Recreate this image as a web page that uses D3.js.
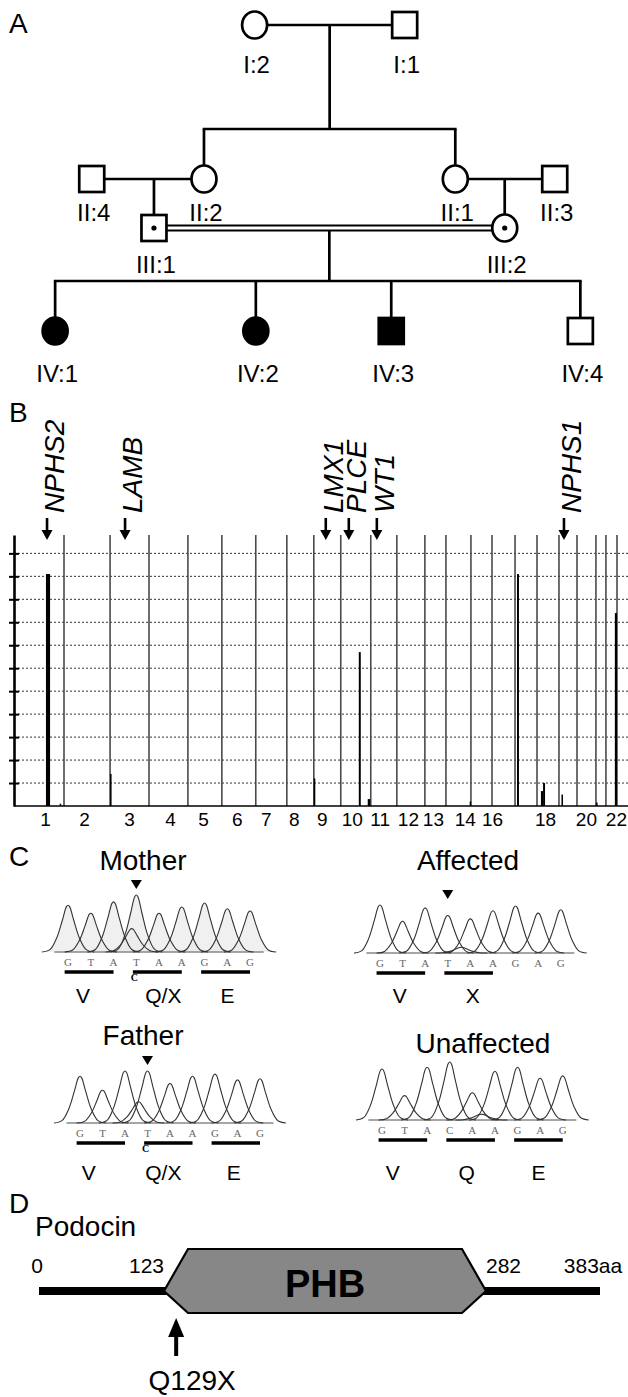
<!DOCTYPE html>
<html>
<head>
<meta charset="utf-8">
<script src="https://cdn.jsdelivr.net/npm/d3@7"></script>
<style>
body { margin:0; background:#fff; }
svg { display:block; font-family:"Liberation Sans", Arial, sans-serif; }
</style>
</head>
<body>
<svg id="fig" width="628" height="1397"></svg>
<script>
// ---------- data: panel A (pedigree) ----------
var people = ["I:2","I:1","II:4","II:2","II:1","II:3","III:1","III:2","IV:1","IV:2","IV:3","IV:4"];
var sex    = ["F","M","M","F","F","M","M","F","F","F","M","M"];
var pheno  = ["n","n","n","n","n","n","c","c","a","a","a","n"];   // n normal, c carrier, a affected
var gen    = ["I","I","II","II","II","II","III","III","IV","IV","IV","IV"];
var slot   = [40.1, 64.7, 13.4, 31.8, 73.0, 89.3, 23.6, 81.1, 7.4, 40.3, 62.5, 93.5];
var couples   = [["I:1","I:2"], ["II:4","II:2"], ["II:3","II:1"], ["III:1","III:2"]];
var consang   = [false, false, false, true];
var offspring = [["II:2","II:1"], ["III:1"], ["III:2"], ["IV:1","IV:2","IV:3","IV:4"]];

// ---------- data: panel B (homozygosity mapping) ----------
var chromLen   = [280,258,218,218,190,190,174,151,151,168,146,157,118,140,118,129,123,123,101,106,56,62];
var chromShown = [1,2,3,4,5,6,7,8,9,10,11,12,13,14,16,18,20,22];
var chromLabelPos = [174,112,106,118,84,84,56,39,45,62,50,62,45,106,0,45,50,56]; // cM within chromosome
var yTicks     = [1,2,3,4,5,6,7,8,9,10,11];
var peakChr    = [1, 1, 3, 9, 10, 10, 14, 17, 18, 18, 19, 21, 22];
var peakStart  = [179, 256, 0, 0, 101, 151, 133, 11, 22, 34, 14, 1, 50];
var peakEnd    = [202, 260, 8, 7, 112, 165, 137, 22, 34, 45, 22, 6, 62];
var peakScore  = [10.1, 0.1, 1.4, 1.2, 6.7, 0.3, 0.2, 10.1, 0.65, 1.0, 0.5, 0.15, 8.4];
var geneName   = ["NPHS2","LAMB","LMX1","PLCE","WT1","NPHS1"];
var geneChr    = [1, 3, 9, 10, 11, 19];
var genePos    = [185, 84, 67, 45, 34, 28];

// ---------- data: panel C (chromatograms) ----------
var samples  = ["Mother","Affected","Father","Unaffected"];
var seqs     = ["GTATAAGAG","GTATAAGAG","GTATAAGAG","GTACAAGAG"];
var peakH    = [
  [0.82,0.68,0.88,1.00,0.68,0.79,0.86,0.76,0.72],
  [1.00,0.66,0.94,0.78,0.71,0.88,0.98,0.83,0.90],
  [0.90,0.63,1.00,1.00,0.76,0.90,0.94,0.83,0.85],
  [0.88,0.42,0.91,1.00,0.47,0.84,0.91,0.72,0.76]];
var minorPos = [[2.8],[3.6],[2.6],[4.4]];
var minorH   = [[0.41],[0.12],[0.41],[0.10]];
var codonAA  = [["V","Q/X","E"],["V","X",""],["V","Q/X","E"],["V","Q","E"]];
var hetBase  = ["C","","C",""];
var markIdx  = [3, 3, 3, -1];

// ---------- data: panel D (podocin) ----------
var protMarks  = [0, 123, 282, 383];
var protLabels = ["0","123","282","383aa"];
var domainName = "PHB";
var mutPos = 129, mutName = "Q129X";

var svg = d3.select("#fig");
svg.append("rect").attr("width", 628).attr("height", 1397).attr("fill", "#fff");

// panel letters
var letterY = {A: 33, B: 422, C: 866, D: 1213};
Object.keys(letterY).forEach(function(k){
  svg.append("text").attr("x", 9).attr("y", letterY[k]).attr("font-size", 28).text(k);
});

// ================= A: pedigree =================
var pedX = d3.scaleLinear().domain([0, 100]).range([10, 620]);
var genY = d3.scaleOrdinal().domain(["I","II","III","IV"]).range([25, 179, 228, 331]);
var genLabelY = d3.scaleOrdinal().domain(["I","II","III","IV"]).range([73, 221, 273, 382]);
var R = 13;
var idx = {};
people.forEach(function(p, i){ idx[p] = i; });
function px(id){ return pedX(slot[idx[id]]); }
function py(id){ return genY(gen[idx[id]]); }

var ped = svg.append("g").attr("stroke", "#000").attr("stroke-width", 2.7).attr("fill", "none");
function seg(x1, y1, x2, y2, w){
  ped.append("line").attr("x1", x1).attr("y1", y1).attr("x2", x2).attr("y2", y2)
    .attr("stroke-width", w || 2.7);
}
couples.forEach(function(c, i){
  var xa = px(c[0]), xb = px(c[1]), y = py(c[0]);
  var l = Math.min(xa, xb) + R, r = Math.max(xa, xb) - R;
  var dropY = y;
  if (consang[i]) {
    seg(l, y - 2.6, r, y - 2.6, 2);
    seg(l, y + 2.6, r, y + 2.6, 2);
    dropY = y + 2.6;
  } else {
    seg(l, y, r, y);
  }
  var kids = offspring[i];
  if (kids.length == 1) {
    seg(px(kids[0]), dropY, px(kids[0]), py(kids[0]) - R);
  } else {
    var mid = (xa + xb) / 2, sibY = py(kids[0]) - 50;
    var kx = kids.map(px);
    seg(mid, dropY, mid, sibY);
    seg(d3.min(kx) - 1.3, sibY, d3.max(kx) + 1.3, sibY);
    kids.forEach(function(k){ seg(px(k), sibY, px(k), py(k) - R); });
  }
});

people.forEach(function(p, i){
  var x = px(p), y = py(p);
  var fill = pheno[i] == "a" ? "#000" : "#fff";
  if (sex[i] == "M") {
    ped.append("rect").attr("x", x - 12.5).attr("y", y - 13).attr("width", 25).attr("height", 26)
      .attr("fill", fill);
  } else {
    ped.append("ellipse").attr("cx", x).attr("cy", y).attr("rx", 12.5).attr("ry", 13.5)
      .attr("fill", fill);
  }
  if (pheno[i] == "c") {
    ped.append("circle").attr("cx", x).attr("cy", y).attr("r", 2.6).attr("fill", "#000").attr("stroke", "none");
  }
  svg.append("text").attr("x", x + 2).attr("y", genLabelY(gen[i]))
    .attr("text-anchor", "middle").attr("font-size", 24).text(p);
});

// ================= B: genome-wide plot =================
var cumStart = [], acc = 0;
chromLen.forEach(function(l){ cumStart.push(acc); acc += l; });
var gx = d3.scaleLinear().domain([0, acc]).range([14, 617]);
var gy = d3.scaleLinear().domain([0, 11.8]).range([806, 535]);

var plotB = svg.append("g");
// dotted grid
plotB.selectAll(".grid").data(yTicks).enter().append("line")
  .attr("x1", gx(0)).attr("x2", 628)
  .attr("y1", function(d){ return gy(d); }).attr("y2", function(d){ return gy(d); })
  .attr("stroke", "#333").attr("stroke-width", 1).attr("stroke-dasharray", "2,2");
// chromosome borders
plotB.selectAll(".chr").data(chromLen).enter().append("line")
  .attr("x1", function(d, i){ return gx(cumStart[i] + d); })
  .attr("x2", function(d, i){ return gx(cumStart[i] + d); })
  .attr("y1", gy.range()[1]).attr("y2", gy(0))
  .attr("stroke", "#4a4a4a").attr("stroke-width", 1.6);
// peaks
plotB.selectAll(".pk").data(peakScore).enter().append("rect")
  .attr("x", function(d, i){ return gx(cumStart[peakChr[i] - 1] + peakStart[i]); })
  .attr("width", function(d, i){ return Math.max(1.5, gx(peakEnd[i]) - gx(peakStart[i])); })
  .attr("y", function(d){ return gy(d); })
  .attr("height", function(d){ return gy(0) - gy(d); })
  .attr("fill", "#000");
// baseline
plotB.append("line").attr("x1", gx(0)).attr("x2", 628).attr("y1", gy(0)).attr("y2", gy(0))
  .attr("stroke", "#000").attr("stroke-width", 1.6);
// y axis
var yAx = plotB.append("g").attr("transform", "translate(" + gx(0) + ",0)")
  .call(d3.axisLeft(gy).tickValues(yTicks).tickSize(5).tickSizeOuter(0).tickFormat(""));
yAx.select(".domain").attr("stroke", "#000").attr("stroke-width", 2.6);
yAx.selectAll(".tick line").attr("x1", 5).attr("x2", -5).attr("stroke-width", 2);
// chromosome labels
var labelAt = chromShown.map(function(c, i){ return cumStart[c - 1] + chromLabelPos[i]; });
var xAx = plotB.append("g").attr("transform", "translate(0," + gy(0) + ")")
  .call(d3.axisBottom(gx).tickValues(labelAt).tickSize(0).tickPadding(7)
    .tickFormat(function(d, i){ return chromShown[i]; }));
xAx.select(".domain").remove();
xAx.selectAll("text").attr("font-size", 19).attr("font-family", "Liberation Sans, Arial, sans-serif").attr("fill", "#000");

// gene arrows
geneName.forEach(function(g, i){
  var x = gx(cumStart[geneChr[i] - 1] + genePos[i]);
  plotB.append("line").attr("x1", x).attr("x2", x).attr("y1", 518).attr("y2", 532)
    .attr("stroke", "#000").attr("stroke-width", 2.6);
  plotB.append("path").attr("d", "M" + (x - 5.5) + ",530L" + (x + 5.5) + ",530L" + x + ",540Z").attr("fill", "#000");
  plotB.append("text").attr("transform", "translate(" + (x + 17) + ",513) rotate(-90)")
    .attr("font-size", 28).attr("font-style", "italic").text(g);
});

// ================= C: chromatograms =================
var layoutC = [
  {x0: 54.4, x1: 263.7, base: 952, h: 57, tx: 143, ty: 870, aaY: 1003, aaDx: [-6, 6, 2], fill: "#e9e9e9"},
  {x0: 366.4, x1: 574.3, base: 953, h: 48, tx: 468, ty: 870, aaY: 1003, aaDx: [-1, 4, 0], fill: "none"},
  {x0: 66.5, x1: 273.5, base: 1123, h: 52, tx: 143, ty: 1045, aaY: 1180, aaDx: [-12, -5, -2], fill: "none"},
  {x0: 368.4, x1: 576.3, base: 1120, h: 58, tx: 483, ty: 1053, aaY: 1180, aaDx: [-10, -4, 0], fill: "none"}];
var peakShape = [[-1.15,0],[-0.8,0.05],[-0.5,0.3],[-0.25,0.68],[-0.07,0.97],[0,1],
                 [0.07,0.97],[0.25,0.68],[0.5,0.3],[0.8,0.05],[1.15,0]];

samples.forEach(function(s, k){
  var L = layoutC[k];
  var xs = d3.scaleLinear().domain([-0.6, 8.6]).range([L.x0, L.x1]);
  var ys = d3.scaleLinear().domain([0, 1]).range([L.base, L.base - L.h]);
  var g = svg.append("g");
  var peaks = peakH[k].map(function(h, i){ return [i, h]; })
    .concat(minorPos[k].map(function(p, j){ return [p, minorH[k][j]]; }));
  var line = d3.line().curve(d3.curveCatmullRom)
    .x(function(d){ return xs(d[0]); }).y(function(d){ return ys(d[1]); });
  var area = d3.area().curve(d3.curveCatmullRom)
    .x(function(d){ return xs(d[0]); }).y0(L.base).y1(function(d){ return ys(d[1]); });
  function pts(p){ return peakShape.map(function(q){ return [p[0] + q[0], q[1] * p[1]]; }); }
  if (L.fill != "none") {
    peaks.forEach(function(p){ g.append("path").attr("d", area(pts(p))).attr("fill", L.fill).attr("opacity", 0.7); });
  }
  g.append("line").attr("x1", L.x0).attr("x2", L.x1).attr("y1", L.base).attr("y2", L.base)
    .attr("stroke", "#888").attr("stroke-width", 1.5);
  peaks.forEach(function(p){
    g.append("path").attr("d", line(pts(p))).attr("fill", "none").attr("stroke", "#333").attr("stroke-width", 1.1);
  });
  // bases
  seqs[k].split("").forEach(function(b, i){
    g.append("text").attr("x", xs(i)).attr("y", L.base + 14).attr("text-anchor", "middle")
      .attr("font-family", "Liberation Serif, serif").attr("font-size", 11).attr("fill", "#666").text(b);
  });
  // codons
  codonAA[k].forEach(function(a, c){
    if (a == "") return;
    var c0 = xs(3 * c - 0.15), c1 = xs(3 * c + 2.0);
    g.append("line").attr("x1", c0).attr("x2", c1)
      .attr("y1", L.base + 20).attr("y2", L.base + 20).attr("stroke", "#000").attr("stroke-width", 3.5);
    g.append("text").attr("x", (c0 + c1) / 2 + L.aaDx[c]).attr("y", L.aaY).attr("text-anchor", "middle")
      .attr("font-size", 21).text(a);
  });
  if (hetBase[k] != "") {
    g.append("text").attr("x", xs(3) - 2).attr("y", L.base + 29).attr("text-anchor", "middle")
      .attr("font-family", "Liberation Serif, serif").attr("font-weight", "bold").attr("font-size", 10).text(hetBase[k]);
  }
  if (markIdx[k] >= 0) {
    var mx = xs(markIdx[k]), my = ys(1) - 6;
    g.append("path").attr("d", "M" + (mx - 5.5) + "," + (my - 9) + "L" + (mx + 5.5) + "," + (my - 9) + "L" + mx + "," + my + "Z")
      .attr("fill", "#000");
  }
  svg.append("text").attr("x", L.tx).attr("y", L.ty).attr("text-anchor", "middle").attr("font-size", 28).text(s);
});

// ================= D: podocin =================
var pxs = d3.scaleLinear().domain(protMarks).range([39, 164, 486, 600]);
var lineY = 1291, boxTop = 1249, boxBot = 1313, bevel = 24;
svg.append("text").attr("x", 35).attr("y", 1236).attr("font-size", 28).text("Podocin");
svg.append("line").attr("x1", pxs(0)).attr("x2", pxs(383)).attr("y1", lineY).attr("y2", lineY)
  .attr("stroke", "#000").attr("stroke-width", 8);
var a = pxs(protMarks[1]), b = pxs(protMarks[2]);
svg.append("path")
  .attr("d", "M" + a + "," + lineY + "L" + (a + bevel) + "," + boxTop + "L" + (b - bevel) + "," + boxTop +
    "L" + b + "," + lineY + "L" + (b - bevel) + "," + boxBot + "L" + (a + bevel) + "," + boxBot + "Z")
  .attr("fill", "#878787").attr("stroke", "#000").attr("stroke-width", 2.2);
svg.append("text").attr("x", (a + b) / 2).attr("y", 1297).attr("text-anchor", "middle")
  .attr("font-size", 38).attr("font-weight", "bold").text(domainName);
var anchors = ["middle", "end", "start", "middle"], dxs = [-2, 0, 0, -7];
protMarks.forEach(function(m, i){
  svg.append("text").attr("x", pxs(m) + dxs[i]).attr("y", 1273).attr("text-anchor", anchors[i])
    .attr("font-size", 21).text(protLabels[i]);
});
var mx = pxs(mutPos);
svg.append("line").attr("x1", mx).attr("x2", mx).attr("y1", 1356).attr("y2", 1333)
  .attr("stroke", "#000").attr("stroke-width", 4);
svg.append("path").attr("d", "M" + (mx - 8) + ",1337L" + (mx + 8) + ",1337L" + mx + ",1318Z").attr("fill", "#000");
svg.append("text").attr("x", mx + 16).attr("y", 1390).attr("text-anchor", "middle").attr("font-size", 28).text(mutName);
</script>
</body>
</html>
